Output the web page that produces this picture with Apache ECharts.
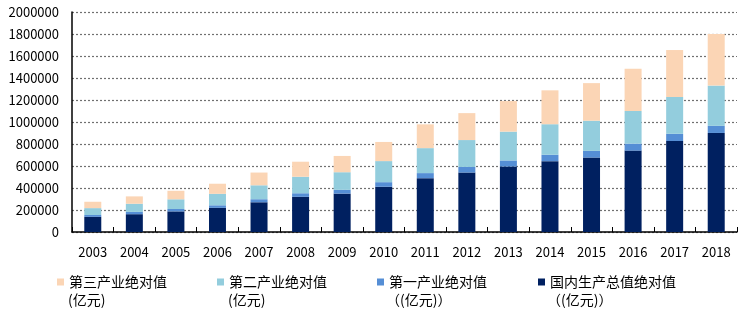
<!DOCTYPE html>
<html><head><meta charset="utf-8">
<script src="https://cdn.jsdelivr.net/npm/echarts@6/dist/echarts.min.js"></script>
<style>html,body{margin:0;padding:0;background:#fff}#c{width:747px;height:327px}</style>
</head><body><div id="c"></div>
<script>
const years = ['2003','2004','2005','2006','2007','2008','2009','2010','2011','2012','2013','2014','2015','2016','2017','2018'];
const gdp = [137422,161840,187319,219439,270232,319516,349081,411000,489301,540367,595244,643974,676708,740000,827122,900309];
const primary = [16970,20904,21807,23317,27788,32753,34161,42000,46163,50902,55329,58344,60863,63671,65468,64734];
const secondary = [62697,74287,88084,104362,126633,149956,160171,191630,227039,244643,261956,277572,274278,296236,334623,366001];
const tertiary = [57755,66648,77427,91760,115810,136806,148000,174000,216099,244821,277959,308059,341567,384221,427032,469575];
const names = ['第三产业绝对值','第二产业绝对值','第一产业绝对值','国内生产总值绝对值'];
const units = ['(亿元)','(亿元)','（(亿元)）','（(亿元)）'];
const colors = ['#FBD5B5','#93CDDD','#558ED5','#002060'];
const markerX = [57,217,377,538];

const font = 'Microsoft YaHei, "Noto Sans CJK SC", sans-serif';
const chart = echarts.init(document.getElementById('c'));
const mk = (name, data, color) => ({name, type:'bar', stack:'s', data, barWidth:17, itemStyle:{color}});
chart.setOption({
  animation:false,
  grid:{left:72,right:10,top:12,bottom:95},
  xAxis:{type:'category',data:years,
    axisLine:{lineStyle:{color:'#000',width:1.5}},
    axisTick:{show:true,inside:true,length:5,alignWithLabel:false,lineStyle:{color:'#000'}},
    axisLabel:{color:'#000',fontSize:13,margin:14,fontFamily:font,interval:0}},
  yAxis:{type:'value',min:0,max:2000000,interval:200000,
    axisLine:{show:true,lineStyle:{color:'#000',width:1.5}},
    axisTick:{show:false},
    axisLabel:{color:'#000',fontSize:13,margin:13,fontFamily:font,formatter:v=>String(v)},
    splitLine:{lineStyle:{color:'#707070',type:[2,2],width:1.2}}},
  legend: names.map((n,i)=>({data:[n],left:markerX[i]-5,top:270,itemWidth:7,itemHeight:7,icon:'rect',itemGap:0,
    textStyle:{fontSize:14,color:'#000',fontFamily:font}})),
  graphic: units.map((u,i)=>({type:'text',left:markerX[i]+11-(i>=2?2:0),top:293,style:{text:u,fontSize:14,fill:'#000',fontFamily:font}})),
  series:[
    mk(names[3], gdp, colors[3]),
    mk(names[2], primary, colors[2]),
    mk(names[1], secondary, colors[1]),
    mk(names[0], tertiary, colors[0])
  ]
});
</script></body></html>
